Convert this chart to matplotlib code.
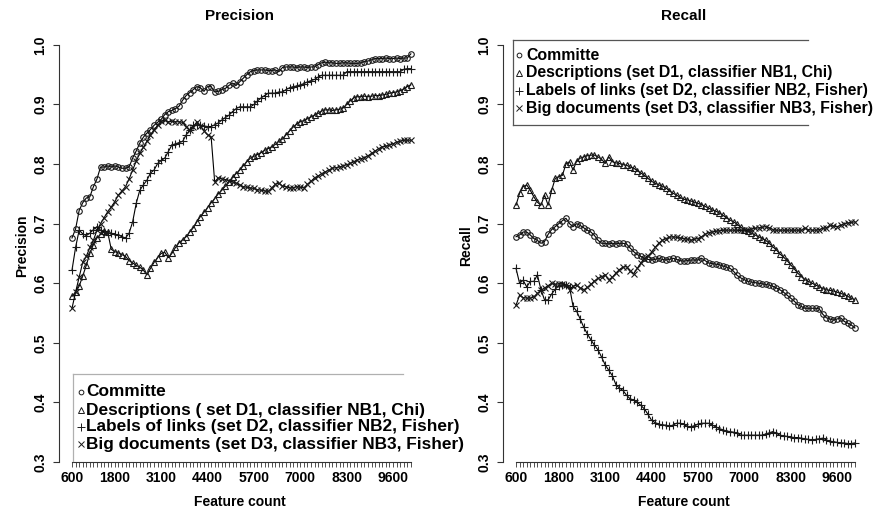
import matplotlib
matplotlib.use("Agg")
import matplotlib.pyplot as plt
from matplotlib.lines import Line2D

plt.rcParams['font.family'] = ['Liberation Sans', 'DejaVu Sans']
plt.rcParams['font.weight'] = 'bold'

feature_count = list(range(600, 10200, 100))
tick_labels = {600: "600", 1800: "1800", 3100: "3100", 4400: "4400",
               5700: "5700", 7000: "7000", 8300: "8300", 9600: "9600"}
y_ticks = [0.3, 0.4, 0.5, 0.6, 0.7, 0.8, 0.9, 1.0]

series_names = ["Committe",
                "Descriptions ( set D1, classifier NB1, Chi)",
                "Labels of links (set D2, classifier NB2, Fisher)",
                "Big documents (set D3, classifier NB3, Fisher)"]
series_names_recall = ["Committe",
                       "Descriptions (set D1, classifier NB1, Chi)",
                       "Labels of links (set D2, classifier NB2, Fisher)",
                       "Big documents (set D3, classifier NB3, Fisher)"]

prec_committee = [
    0.676, 0.691, 0.722, 0.735, 0.743, 0.745, 0.762, 0.775, 0.795, 0.795,
    0.797, 0.795, 0.797, 0.795, 0.793, 0.793, 0.795, 0.810, 0.822, 0.835,
    0.845, 0.852, 0.858, 0.865, 0.870, 0.875, 0.883, 0.888, 0.890, 0.893,
    0.897, 0.907, 0.915, 0.920, 0.925, 0.930, 0.928, 0.922, 0.930, 0.930,
    0.921, 0.922, 0.925, 0.927, 0.932, 0.936, 0.932, 0.938, 0.944, 0.950,
    0.955, 0.957, 0.958, 0.958, 0.958, 0.957, 0.957, 0.958, 0.955, 0.962,
    0.963, 0.963, 0.963, 0.962, 0.963, 0.963, 0.962, 0.963, 0.963, 0.967,
    0.970, 0.971, 0.970, 0.970, 0.969, 0.969, 0.970, 0.970, 0.969, 0.969,
    0.969, 0.970, 0.972, 0.973, 0.975, 0.977, 0.977, 0.977, 0.978, 0.977,
    0.977, 0.978, 0.977, 0.978, 0.978, 0.985]
prec_desc = [
    0.578, 0.585, 0.595, 0.612, 0.630, 0.650, 0.665, 0.676, 0.682, 0.688,
    0.686, 0.657, 0.653, 0.651, 0.648, 0.645, 0.638, 0.634, 0.630, 0.627,
    0.622, 0.614, 0.625, 0.635, 0.643, 0.650, 0.652, 0.643, 0.650, 0.660,
    0.668, 0.673, 0.678, 0.686, 0.693, 0.703, 0.712, 0.719, 0.727, 0.735,
    0.742, 0.750, 0.756, 0.763, 0.770, 0.778, 0.784, 0.790, 0.797, 0.804,
    0.810, 0.813, 0.816, 0.819, 0.823, 0.826, 0.829, 0.833, 0.838, 0.842,
    0.849, 0.856, 0.862, 0.867, 0.871, 0.873, 0.876, 0.879, 0.882, 0.885,
    0.889, 0.891, 0.891, 0.890, 0.891, 0.892, 0.894, 0.900, 0.906, 0.911,
    0.913, 0.913, 0.914, 0.913, 0.914, 0.915, 0.915, 0.916, 0.917, 0.919,
    0.920, 0.921, 0.923, 0.926, 0.930, 0.933]
prec_links = [
    0.622, 0.660, 0.689, 0.683, 0.680, 0.684, 0.690, 0.695, 0.689, 0.686,
    0.684, 0.684, 0.682, 0.681, 0.678, 0.676, 0.684, 0.703, 0.734, 0.756,
    0.765, 0.773, 0.785, 0.790, 0.801, 0.806, 0.810, 0.821, 0.832, 0.834,
    0.836, 0.838, 0.849, 0.857, 0.865, 0.866, 0.865, 0.864, 0.863, 0.863,
    0.866, 0.869, 0.874, 0.878, 0.882, 0.888, 0.893, 0.896, 0.896, 0.896,
    0.896, 0.900, 0.906, 0.911, 0.915, 0.919, 0.919, 0.919, 0.921, 0.921,
    0.925, 0.928, 0.930, 0.931, 0.933, 0.935, 0.938, 0.940, 0.942, 0.946,
    0.949, 0.949, 0.949, 0.949, 0.949, 0.949, 0.949, 0.955, 0.955, 0.955,
    0.955, 0.955, 0.955, 0.955, 0.955, 0.955, 0.955, 0.955, 0.955, 0.955,
    0.955, 0.955, 0.955, 0.959, 0.960, 0.960]
prec_big = [
    0.558, 0.585, 0.610, 0.635, 0.645, 0.660, 0.672, 0.689, 0.700, 0.710,
    0.720, 0.728, 0.737, 0.748, 0.755, 0.762, 0.775, 0.790, 0.805, 0.818,
    0.828, 0.838, 0.848, 0.857, 0.865, 0.872, 0.874, 0.871, 0.872, 0.871,
    0.871, 0.870, 0.863, 0.857, 0.862, 0.871, 0.864, 0.856, 0.849, 0.846,
    0.770, 0.777, 0.775, 0.774, 0.772, 0.770, 0.768, 0.765, 0.762, 0.761,
    0.760, 0.759, 0.757, 0.756, 0.755, 0.754, 0.760, 0.766, 0.768, 0.763,
    0.762, 0.760, 0.760, 0.762, 0.761, 0.760, 0.766, 0.771, 0.777, 0.780,
    0.784, 0.787, 0.790, 0.793, 0.794, 0.795, 0.797, 0.799, 0.801, 0.804,
    0.807, 0.809, 0.811, 0.814, 0.818, 0.822, 0.826, 0.829, 0.830, 0.832,
    0.834, 0.837, 0.838, 0.840, 0.840, 0.840]

rec_committee = [
    0.678, 0.681, 0.686, 0.686, 0.681, 0.675, 0.672, 0.667, 0.670, 0.682,
    0.690, 0.695, 0.700, 0.705, 0.709, 0.700, 0.695, 0.700, 0.697, 0.693,
    0.689, 0.686, 0.680, 0.672, 0.667, 0.667, 0.666, 0.667, 0.666, 0.667,
    0.667, 0.666, 0.659, 0.653, 0.648, 0.645, 0.642, 0.640, 0.639, 0.640,
    0.642, 0.640, 0.639, 0.640, 0.642, 0.640, 0.638, 0.637, 0.638, 0.639,
    0.639, 0.639, 0.642, 0.638, 0.634, 0.633, 0.632, 0.631, 0.629, 0.627,
    0.625, 0.620, 0.613, 0.609, 0.606, 0.603, 0.602, 0.601, 0.600, 0.599,
    0.598, 0.597, 0.595, 0.592, 0.589, 0.585, 0.580, 0.575, 0.570, 0.564,
    0.561, 0.558, 0.558, 0.558, 0.558, 0.557, 0.548, 0.542, 0.540, 0.538,
    0.540, 0.542, 0.536, 0.533, 0.530, 0.525]
rec_desc = [
    0.731, 0.751, 0.762, 0.765, 0.756, 0.745, 0.736, 0.731, 0.748, 0.731,
    0.756, 0.776, 0.779, 0.781, 0.800, 0.804, 0.790, 0.805, 0.810, 0.812,
    0.814, 0.815, 0.815, 0.812, 0.808, 0.801, 0.812, 0.804, 0.802, 0.801,
    0.799, 0.798, 0.795, 0.793, 0.789, 0.785, 0.781, 0.776, 0.771, 0.768,
    0.765, 0.763, 0.760, 0.755, 0.751, 0.748, 0.744, 0.741, 0.740, 0.738,
    0.736, 0.734, 0.732, 0.729, 0.726, 0.723, 0.721, 0.718, 0.714, 0.710,
    0.706, 0.703, 0.699, 0.694, 0.690, 0.687, 0.684, 0.681, 0.678, 0.675,
    0.672, 0.667, 0.661, 0.656, 0.649, 0.644, 0.638, 0.631, 0.624, 0.617,
    0.611, 0.606, 0.603, 0.600, 0.597, 0.594, 0.591, 0.589, 0.588, 0.587,
    0.585, 0.583, 0.581, 0.578, 0.575, 0.572]
rec_links = [
    0.625, 0.600, 0.605, 0.594, 0.603, 0.603, 0.614, 0.589, 0.572, 0.572,
    0.582, 0.590, 0.596, 0.597, 0.597, 0.594, 0.561, 0.553, 0.540, 0.526,
    0.515, 0.505, 0.496, 0.488, 0.476, 0.463, 0.454, 0.445, 0.430, 0.424,
    0.420, 0.412, 0.406, 0.404, 0.400, 0.395, 0.389, 0.380, 0.370, 0.366,
    0.364, 0.362, 0.362, 0.360, 0.362, 0.365, 0.365, 0.363, 0.360, 0.359,
    0.361, 0.363, 0.365, 0.365, 0.365, 0.362, 0.359, 0.356, 0.354, 0.352,
    0.351, 0.350, 0.348, 0.345, 0.345, 0.345, 0.345, 0.345, 0.345, 0.345,
    0.347, 0.349, 0.351, 0.348, 0.345, 0.344, 0.343, 0.342, 0.341, 0.341,
    0.340, 0.339, 0.338, 0.337, 0.338, 0.339, 0.340, 0.337, 0.335, 0.334,
    0.333, 0.332, 0.332, 0.331, 0.331, 0.332]
rec_big = [
    0.563, 0.580, 0.576, 0.575, 0.575, 0.577, 0.583, 0.588, 0.592, 0.596,
    0.600, 0.598, 0.599, 0.599, 0.597, 0.589, 0.595, 0.597, 0.592, 0.589,
    0.593, 0.598, 0.604, 0.608, 0.611, 0.614, 0.606, 0.610, 0.617, 0.623,
    0.627, 0.628, 0.620, 0.616, 0.625, 0.634, 0.641, 0.646, 0.652, 0.660,
    0.667, 0.672, 0.675, 0.677, 0.678, 0.677, 0.676, 0.675, 0.674, 0.672,
    0.674, 0.675, 0.678, 0.682, 0.685, 0.686, 0.687, 0.688, 0.689, 0.689,
    0.689, 0.689, 0.689, 0.689, 0.689, 0.690, 0.691, 0.692, 0.693, 0.694,
    0.695, 0.693, 0.690, 0.689, 0.689, 0.689, 0.689, 0.689, 0.689, 0.689,
    0.689, 0.692, 0.690, 0.689, 0.689, 0.690, 0.692, 0.693, 0.697, 0.696,
    0.695, 0.697, 0.700, 0.701, 0.702, 0.703]

W, H = 885, 515
fig = plt.figure(figsize=(W / 100, H / 100), dpi=100)

markers = [dict(marker='o', ms=4.0), dict(marker='^', ms=4.8),
           dict(marker='+', ms=6.0), dict(marker='x', ms=4.3)]
MC = '#1a1a1a'


def fx(px):
    return px / W


def fy(py):
    return 1 - py / H


def make_panel(left_px, series, title, ylabel):
    ax = fig.add_axes([fx(left_px), fy(462), (420 - 59) / W, (462 - 30) / H])
    ax.set_xlim(235.5, 10356)
    ax.set_ylim(0.3, 1.025)
    for vals, mk in zip(series, markers):
        ax.plot(feature_count, vals, color='black', lw=0.8,
                mfc='none', mec=MC, mew=0.8, **mk, clip_on=False)
    for s in ['top', 'right']:
        ax.spines[s].set_visible(False)
    ax.spines['left'].set_bounds(0.3, 1.0)
    ax.spines['bottom'].set_bounds(feature_count[0], feature_count[-1])
    ax.spines['left'].set_color('#333333')
    ax.spines['bottom'].set_color('#333333')
    ax.set_xticks(feature_count)
    ax.set_xticklabels([tick_labels.get(f, '') for f in feature_count],
                       fontsize=10, fontweight='bold')
    ax.set_yticks(y_ticks)
    ax.set_yticklabels([f"{v:.1f}" for v in y_ticks], rotation=90,
                       va='center', fontsize=10, fontweight='bold')
    ax.tick_params(axis='x', length=3.5, width=0.6, pad=3, color='#333333')
    ax.tick_params(axis='y', length=4.5, width=0.8, pad=4, color='#333333')
    ax.set_title(title, fontsize=11, fontweight='bold', pad=7.5)
    ax.set_xlabel("Feature count", fontsize=10, fontweight='bold', labelpad=7)
    ax.set_ylabel(ylabel, fontsize=10, fontweight='bold', labelpad=3)
    return ax


ax1 = make_panel(59, [prec_committee, prec_desc, prec_links, prec_big],
                 "Precision", "Precision")
ax2 = make_panel(503, [rec_committee, rec_desc, rec_links, rec_big],
                 "Recall", "Recall")


def draw_legend(names, mx, tx, ys, edges, color, fs):
    for (a, b, c, d) in edges:
        fig.add_artist(Line2D([fx(a), fx(c)], [fy(b), fy(d)],
                              color=color, lw=0.9))
    for name, mk, yy in zip(names, markers, ys):
        kw = dict(mk)
        kw['ms'] = kw['ms'] * 0.85
        fig.add_artist(Line2D([fx(mx)], [fy(yy)], ls='none', mfc='none',
                              mec=MC, mew=0.7, **kw))
        fig.text(fx(tx), fy(yy), name, fontsize=fs, fontweight='bold',
                 va='center', ha='left')


# left legend: top and left edges only
draw_legend(series_names, 80.5, 86, [392, 410, 427, 444],
            [(73, 374, 403, 374), (73, 374, 73, 461)], '#b0b0b0', 12.4)
# right legend: top, left, bottom edges
draw_legend(series_names_recall, 518.5, 526, [55, 73, 91, 108],
            [(513, 40, 808, 40), (513, 40, 513, 125), (513, 125, 808, 125)],
            '#555555', 11.4)

fig.savefig("out.png", dpi=100)
